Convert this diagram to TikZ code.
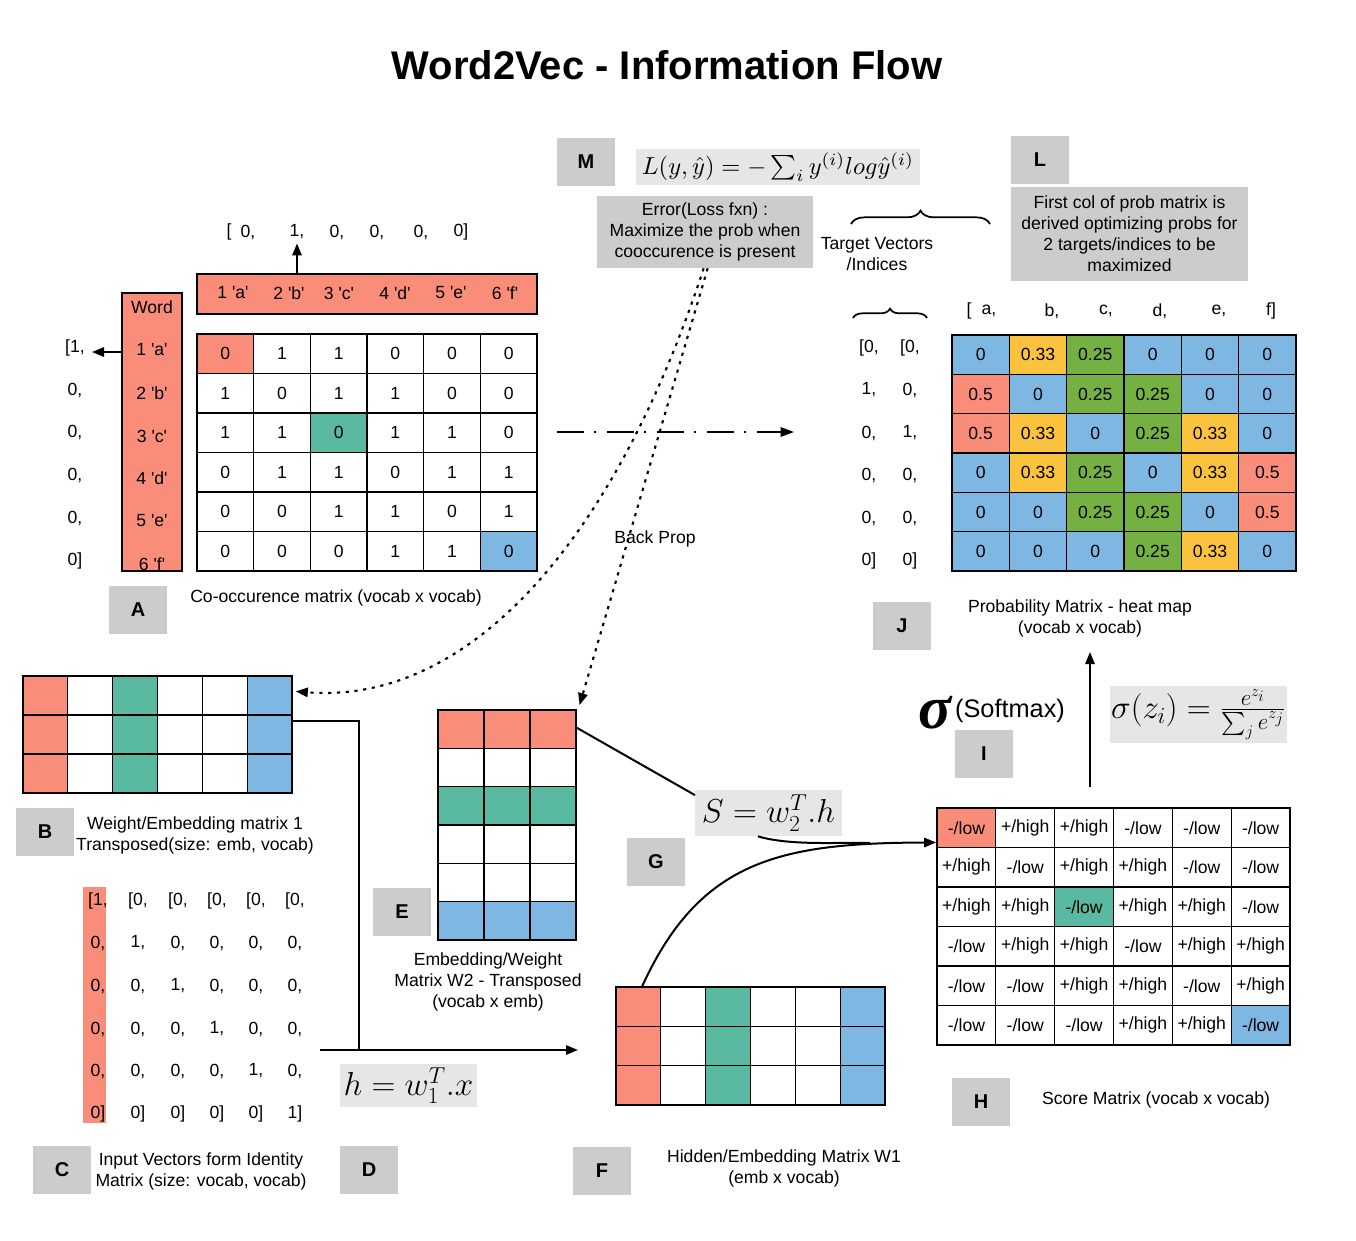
\documentclass[tikz,border=0pt]{standalone}
\usepackage{fontspec}
\setmainfont{Liberation Sans}
\newfontfamily\serifsym{Liberation Serif}
\usepackage{amsmath}
\usepackage{graphicx}
\usetikzlibrary{arrows.meta,calc,fit,decorations.pathreplacing}

\definecolor{cR}{HTML}{F98D7A}
\definecolor{cT}{HTML}{5AB9A1}
\definecolor{cB}{HTML}{7FB7E3}
\definecolor{cY}{HTML}{FBC23D}
\definecolor{cG}{HTML}{75B043}
\colorlet{cW}{white}
\definecolor{lblgray}{HTML}{CCCCCC}
\definecolor{fgray}{HTML}{E6E6E6}

\newcommand\wq[1]{\textquotesingle#1\textquotesingle}
\newcommand\sLo{-/low}
\newcommand\sHi{+/high}
\newcommand\bodyfont{\fontsize{13.2}{15.8}\selectfont}

% grid of cells: name, left, top, cell width, cell height, columns, value/colour list
\newcommand\mgrid[7]{%
  \foreach \vv/\cc [count=\kk from 0] in {#7}{%
    \pgfmathtruncatemacro\mr{\kk/#6}%
    \pgfmathtruncatemacro\mc{\kk-\mr*#6}%
    \node[cell, fill=\cc, minimum width={#4*0.75pt}, minimum height={#5*0.75pt}]
      (#1-\mr-\mc) at ({#2+(\mc+0.5)*#4},{#3+(\mr+0.5)*#5}) {\vv};
  }%
}

\begin{document}
\begin{tikzpicture}[x=0.75pt,y=-0.75pt,
  txt/.style={font=\bodyfont, align=center, inner sep=0pt},
  cell/.style={draw, line width=0.9pt, inner sep=0pt, font=\bodyfont},
  lbl/.style={fill=lblgray, minimum width=43.5pt, minimum height=36pt, inner sep=0pt,
              font=\bfseries\fontsize{15}{18}\selectfont},
  fbox/.style={fill=fgray, inner sep=0pt},
  note/.style={fill=lblgray, inner sep=0pt, align=center, font=\bodyfont},
  arr/.style={line width=1.5pt, -{Triangle[length=9pt,width=7pt]}},
  plain/.style={line width=1.5pt},
  bp/.style={line width=1.6pt, dash pattern=on 2.4pt off 4.2pt, -{Triangle[length=9pt,width=7pt]}},
  dd/.style={line width=1.5pt, dash pattern=on 20pt off 8pt on 1.5pt off 8pt, -{Triangle[length=10pt,width=7pt]}},
  brc/.style={line width=1.3pt, decorate},
  fitbox/.style={inner sep=0pt}
]
\fill[white] (0,0) rectangle (1356,1240);
\useasboundingbox (0,0) rectangle (1356,1240);

% title
\node[font=\bfseries\fontsize{30}{36}\selectfont, inner sep=0pt] (title) at (667,65) {Word2Vec - Information Flow};

% ---------- A: co-occurrence matrix ----------
\node[fit={(197,274) (537,314)}, fitbox, fill=cR, draw, line width=1.6pt] (hdr) {};
\foreach \t/\x [count=\n] in {1 \wq{a}/233, 2 \wq{b}/289, 3 \wq{c}/339, 4 \wq{d}/395, 5 \wq{e}/451, 6 \wq{f}/505}
  \node[txt] (hd\n) at (\x,293) {\t};

\foreach \t/\x [count=\n] in {{[}/229, {0,}/248, {1,}/297, {0,}/337, {0,}/377, {0,}/421, {0]}/461}
  \node[txt] (tv\n) at (\x,232) {\t};
\draw[arr] (hdr.north -| tv3) -- ([yshift=-3pt]tv3.south);

\node[fit={(122,293) (182,571)}, fitbox, fill=cR, draw, line width=1.6pt] (word) {};
\node[txt] (wordh) at (152,307) {Word};
\foreach \t/\y [count=\n] in {1 \wq{a}/350, 2 \wq{b}/393, 3 \wq{c}/436, 4 \wq{d}/478, 5 \wq{e}/521, 6 \wq{f}/564}
  \node[txt] (wd\n) at (152,\y) {\t};

\foreach \t/\y [count=\n] in {{[1,}/348, {0,}/390, {0,}/432, {0,}/475, {0,}/518, {0]}/561}
  \node[txt] (lv\n) at (75,\y) {\t};
\draw[arr] (word.west |- 0,352) -- (92,352);

\mgrid{A}{197}{334}{56.67}{39.5}{6}{%
 0/cR,1/cW,1/cW,0/cW,0/cW,0/cW,
 1/cW,0/cW,1/cW,1/cW,0/cW,0/cW,
 1/cW,1/cW,0/cT,1/cW,1/cW,0/cW,
 0/cW,1/cW,1/cW,0/cW,1/cW,1/cW,
 0/cW,0/cW,1/cW,1/cW,0/cW,1/cW,
 0/cW,0/cW,0/cW,1/cW,1/cW,0/cB}
\node[fit=(A-0-0)(A-5-5), fitbox] (matA) {};
\node[lbl] (lA) at (138,610) {A};
\node[txt] (tA) at (336,598) {Co-occurence matrix (vocab x vocab)};

% ---------- M: loss ----------
\node[lbl] (lM) at (586,162) {M};
\node[fbox, minimum width=213pt, minimum height=27pt] (Lform) at (778,167)
  {\resizebox{204pt}{!}{$L(y,\hat{y}) = -\sum_i y^{(i)} log\hat{y}^{(i)}$}};
\node[note, minimum width=162pt, minimum height=54pt] (err) at (705,232)
  {Error(Loss fxn) :\\Maximize the prob when\\cooccurence is present};

% ---------- target vectors ----------
\draw[brc, decoration={brace, amplitude=10pt}] (851,224) -- (990,224);
\node[txt] (tgt) at (877,254) {Target Vectors\\/Indices};
\draw[brc, decoration={brace, amplitude=7pt}] (853,318) -- (927,318);
\foreach \a/\b/\y [count=\n] in {{[0,}/{[0,}/348, {1,}/{0,}/390, {0,}/{1,}/433, {0,}/{0,}/475, {0,}/{0,}/518, {0]}/{0]}/561}{
  \node[txt] (ta\n) at (869,\y) {\a};
  \node[txt] (tb\n) at (910,\y) {\b};
}

% ---------- L: note ----------
\node[lbl] (lL) at (1040,160) {L};
\node[note, minimum width=178pt, minimum height=70.5pt] (lnote) at (1129.5,234)
  {First col of prob matrix is\\derived optimizing probs for\\2 targets/indices to be\\maximized};

% ---------- J: probability matrix ----------
\foreach \t/\x [count=\n] in {{[}/969, {a,}/989, {b,}/1052, {c,}/1106, {d,}/1160, {e,}/1219, {f]}/1271}
  \node[txt] (ph\n) at (\x,311) {\t};
\mgrid{J}{952}{335}{57.33}{39.33}{6}{%
 0/cB,0.33/cY,0.25/cG,0/cB,0/cB,0/cB,
 0.5/cR,0/cB,0.25/cG,0.25/cG,0/cB,0/cB,
 0.5/cR,0.33/cY,0/cB,0.25/cG,0.33/cY,0/cB,
 0/cB,0.33/cY,0.25/cG,0/cB,0.33/cY,0.5/cR,
 0/cB,0/cB,0.25/cG,0.25/cG,0/cB,0.5/cR,
 0/cB,0/cB,0/cB,0.25/cG,0.33/cY,0/cB}
\node[fit=(J-0-0)(J-5-5), fitbox] (matJ) {};
\node[lbl] (lJ) at (902,626) {J};
\node[txt] (tJ) at (1080,618) {Probability Matrix - heat map\\(vocab x vocab)};

% forward pass to the probabilities
\coordinate (dd1) at (557,432);
\coordinate (dd2) at (794,432);
\draw[dd] (dd1) -- (dd2);

% ---------- B: weight matrix 1 ----------
\mgrid{B}{23}{676}{44.83}{39}{6}{%
 {}/cR,{}/cW,{}/cT,{}/cW,{}/cW,{}/cB,
 {}/cR,{}/cW,{}/cT,{}/cW,{}/cW,{}/cB,
 {}/cR,{}/cW,{}/cT,{}/cW,{}/cW,{}/cB}
\node[fit=(B-0-0)(B-2-5), fitbox] (matB) {};
\node[lbl] (lB) at (45,832) {B};
\node[txt] (tB) at (195,835) {Weight/Embedding matrix 1\\Transposed(size: emb, vocab)};

% ---------- C: identity inputs ----------
\node[fit={(83,887) (106,1123)}, fitbox, fill=cR] (colC) {};
\foreach \y [count=\r] in {901,943,986,1029,1071,1114}{
  \foreach \x [count=\c] in {98,138,178,217,256,295}{
    \pgfmathtruncatemacro\diag{\r==\c ? 1 : 0}
    \ifnum\r=1
      \node[txt] (c\r-\c) at (\x,\y) {[\ifnum\diag=1 1\else 0\fi,};
    \else\ifnum\r=6
      \node[txt] (c\r-\c) at (\x,\y) {\ifnum\diag=1 1\else 0\fi]};
    \else
      \node[txt] (c\r-\c) at (\x,\y) {\ifnum\diag=1 1\else 0\fi,};
    \fi\fi
  }
}
\node[lbl] (lC) at (62,1170) {C};
\node[txt] (tC) at (201,1171) {Input Vectors form Identity\\Matrix (size: vocab, vocab)};

% ---------- D: hidden layer ----------
\coordinate (join) at (359,1050);
\coordinate (hIn) at (320,1050);
\coordinate (hOut) at (578,1050);
\draw[plain] ([yshift=10pt]matB.east) -| (join);
\draw[arr] (hIn) -- (hOut);
\node[fbox, minimum width=103pt, minimum height=32pt] (Dform) at (408.5,1085.5)
  {\fontsize{25}{27}\selectfont$h = w_1^T . x$};
\node[lbl] (lD) at (369,1170) {D};

% ---------- E: weight matrix 2 ----------
\mgrid{E}{438}{710}{46}{38.33}{3}{%
 {}/cR,{}/cR,{}/cR,
 {}/cW,{}/cW,{}/cW,
 {}/cT,{}/cT,{}/cT,
 {}/cW,{}/cW,{}/cW,
 {}/cW,{}/cW,{}/cW,
 {}/cB,{}/cB,{}/cB}
\node[fit=(E-0-0)(E-5-2), fitbox] (matE) {};
\node[lbl] (lE) at (402,912) {E};
\node[txt] (tE) at (488,982) {Embedding/Weight\\Matrix W2 - Transposed\\(vocab x emb)};

% ---------- F: hidden matrix ----------
\mgrid{F}{616}{987}{44.83}{39.33}{6}{%
 {}/cR,{}/cW,{}/cT,{}/cW,{}/cW,{}/cB,
 {}/cR,{}/cW,{}/cT,{}/cW,{}/cW,{}/cB,
 {}/cR,{}/cW,{}/cT,{}/cW,{}/cW,{}/cB}
\node[fit=(F-0-0)(F-2-5), fitbox] (matF) {};
\node[lbl] (lF) at (602,1171) {F};
\node[txt] (tF) at (784,1168) {Hidden/Embedding Matrix W1\\(emb x vocab)};

% ---------- G: scores ----------
\node[fbox, minimum width=110pt, minimum height=34.5pt] (Sform) at (768.5,813)
  {\fontsize{25}{27}\selectfont$S = w_2^T . h$};
\node[lbl] (lG) at (656,862) {G};
\draw[plain] ([yshift=-14pt]matE.north east) -- ([yshift=-4pt]Sform.north west);

% ---------- H: score matrix ----------
\mgrid{H}{937}{808}{58.83}{39.5}{6}{%
 \sLo/cR,\sHi/cW,\sHi/cW,\sLo/cW,\sLo/cW,\sLo/cW,
 \sHi/cW,\sLo/cW,\sHi/cW,\sHi/cW,\sLo/cW,\sLo/cW,
 \sHi/cW,\sHi/cW,\sLo/cT,\sHi/cW,\sHi/cW,\sLo/cW,
 \sLo/cW,\sHi/cW,\sHi/cW,\sLo/cW,\sHi/cW,\sHi/cW,
 \sLo/cW,\sLo/cW,\sHi/cW,\sHi/cW,\sLo/cW,\sHi/cW,
 \sLo/cW,\sLo/cW,\sLo/cW,\sHi/cW,\sHi/cW,\sLo/cB}
\node[fit=(H-0-0)(H-5-5), fitbox] (matH) {};
\node[lbl] (lH) at (981,1102) {H};
\node[txt] (tH) at (1156,1100) {Score Matrix (vocab x vocab)};

\coordinate (Hin) at ($(matH.north west)!0.148!(matH.south west)$);
\draw[plain] ([xshift=-8pt]Sform.south) .. controls (790,846) and (840,842) .. (870,843);
\draw[arr] ($(matF.north west)!0.1!(matF.north east)$) .. controls (700,860) and (780,843) .. (Hin);

% ---------- I: softmax ----------
\node[inner sep=0pt, anchor=base] (sig) at (935,728)
  {\serifsym\bfseries\itshape\fontsize{46}{46}\selectfont σ};
\node[inner sep=0pt, font=\fontsize{19}{22}\selectfont] (smx) at (1010,711) {(Softmax)};
\node[lbl] (lI) at (984,754) {I};
\node[fbox, minimum width=133pt, minimum height=43pt] (smform) at (1198.5,714.5)
  {\fontsize{25}{27}\selectfont$\sigma(z_i) = \frac{e^{z_i}}{\sum_j e^{z_j}}$};
\coordinate (up0) at (1090,787);
\coordinate (up1) at (1090,652);
\draw[arr] (up0) -- (up1);

% ---------- back propagation ----------
\draw[bp] ([xshift=2pt]err.south) -- ([xshift=2pt,yshift=3pt]matE.north east);
\draw[bp] ([xshift=-1pt]err.south) .. controls (615,540) and (470,705) .. ($(matB.north east)!0.137!(matB.south east)+(3,0)$);
\node[txt] (bprop) at (655,539) {Back Prop};

\end{tikzpicture}
\end{document}
